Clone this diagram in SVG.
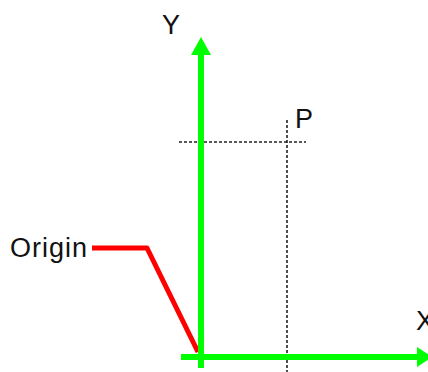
<svg xmlns="http://www.w3.org/2000/svg" width="428" height="372" viewBox="0 0 428 372">
<style>
.lbl{font-family:"Liberation Sans",Arial,sans-serif;font-size:27px;fill:#111}
.axis{stroke:#00ff00;stroke-width:6;fill:none}
.head{fill:#00ff00}
.dot{stroke:#222;stroke-width:1.6;stroke-dasharray:3 2;fill:none}
.red{stroke:#ff0000;stroke-width:5;fill:none;stroke-linejoin:round}
</style>
<rect width="428" height="372" fill="#fff"/>
<g id="guides">
<line class="dot" x1="179" y1="142" x2="306" y2="142"/>
<line class="dot" x1="287" y1="120" x2="287" y2="372"/>
</g>
<g id="connectors">
<polyline class="red" points="92,248 147,248 198,352"/>
</g>
<g id="y-axis">
<line class="axis" x1="201" y1="368" x2="201" y2="50"/>
<polygon class="head" points="201,37 211,55 191,55"/>
</g>
<g id="x-axis">
<line class="axis" x1="181" y1="357" x2="420" y2="357"/>
<polygon class="head" points="417,347 432,357 417,367"/>
</g>
<g id="label-y"><text class="lbl" x="162" y="34">Y</text></g>
<g id="label-p"><text class="lbl" x="295" y="128">P</text></g>
<g id="label-x"><text class="lbl" x="416" y="330">X</text></g>
<g id="label-origin"><text class="lbl" x="10" y="257" letter-spacing="1">Origin</text></g>
</svg>
